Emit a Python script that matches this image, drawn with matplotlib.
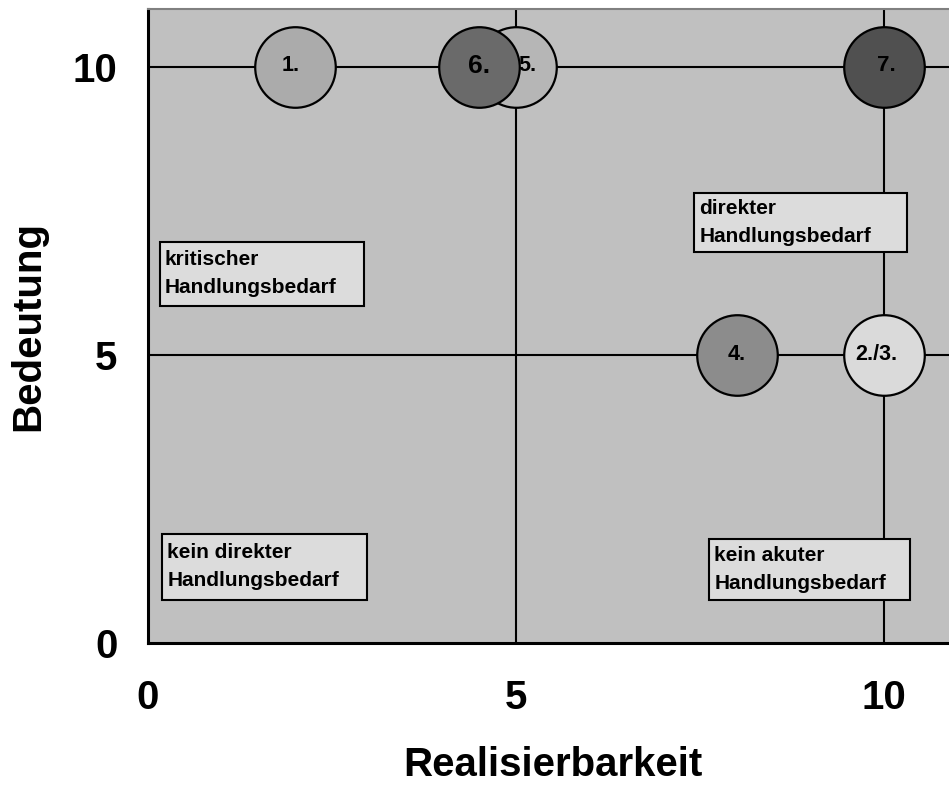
import matplotlib
matplotlib.use("Agg")
import matplotlib.pyplot as plt
from matplotlib.patches import Rectangle

plt.rcParams['font.family'] = ['Liberation Sans', 'DejaVu Sans']
plt.rcParams['font.weight'] = 'bold'

# measures: Realisierbarkeit (x), Bedeutung (y)
labels = ["1.", "5.", "6.", "7.", "4.", "2./3."]
realisierbarkeit = [2, 5, 4.5, 10, 8, 10]
bedeutung = [10, 10, 10, 10, 5, 5]
fill = ["#ababab", "#b6b6b6", "#6a6a6a", "#505050", "#8c8c8c", "#dadada"]
label_size = [15.5, 15.5, 19, 16, 15.5, 15.5]
label_dx = [-3, 8, 0, 1.5, 0, -6]

quadrants = ["kritischer\nHandlungsbedarf", "direkter\nHandlungsbedarf",
             "kein direkter\nHandlungsbedarf", "kein akuter\nHandlungsbedarf"]
# box extents (x0, x1, y0, y1) in data units
box_x0 = [0.16, 7.42, 0.19, 7.62]
box_x1 = [2.94, 10.31, 2.98, 10.35]
box_y0 = [5.85, 6.79, 0.75, 0.75]
box_y1 = [6.96, 7.80, 1.89, 1.81]

ticks = [0, 5, 10]

fig = plt.figure(figsize=(9.49, 7.89), dpi=100)
ax = fig.add_axes([148 / 949, 146 / 789, 810 / 949, 634 / 789])
ax.set_facecolor("#c0c0c0")
ax.set_xlim(0, 11)
ax.set_ylim(0, 11)

for v in [5, 10]:
    ax.axvline(v, color="black", lw=1.5, zorder=1)
    ax.axhline(v, color="black", lw=1.5, zorder=1)

for t, x0, x1, y0, y1 in zip(quadrants, box_x0, box_x1, box_y0, box_y1):
    ax.add_patch(Rectangle((x0, y0), x1 - x0, y1 - y0, fc="#dcdcdc", ec="black",
                           lw=1.5, zorder=2))
    ax.text(x0 + 0.07, (y0 + y1) / 2, t, ha="left", va="center", fontsize=15,
            fontweight="bold", linespacing=1.6, zorder=2.5)

for x, y, c in zip(realisierbarkeit, bedeutung, fill):
    ax.scatter(x, y, s=58 ** 2, color=c, edgecolor="black", linewidth=1.6, zorder=3)
for x, y, lab, fs, dx in zip(realisierbarkeit, bedeutung, labels, label_size, label_dx):
    ax.annotate(lab, (x, y), xytext=(dx, 0.5), textcoords="offset points",
                ha="center", va="center", fontsize=fs, fontweight="bold", zorder=5)

ax.set_xticks(ticks)
ax.set_yticks(ticks)
ax.tick_params(length=0, labelsize=29)
ax.tick_params(axis="x", pad=26)
ax.tick_params(axis="y", pad=22)
for lbl in ax.get_xticklabels() + ax.get_yticklabels():
    lbl.set_fontweight("bold")

ax.set_xlabel("Realisierbarkeit", fontsize=29, fontweight="bold", labelpad=21)
ax.set_ylabel("Bedeutung", fontsize=29, fontweight="bold", labelpad=18)

ax.spines["left"].set_linewidth(2.2)
ax.spines["bottom"].set_linewidth(2.2)
ax.spines["top"].set_color("#808080")
ax.spines["top"].set_linewidth(1.5)
ax.spines["right"].set_visible(False)

fig.savefig("out.png", dpi=100)
